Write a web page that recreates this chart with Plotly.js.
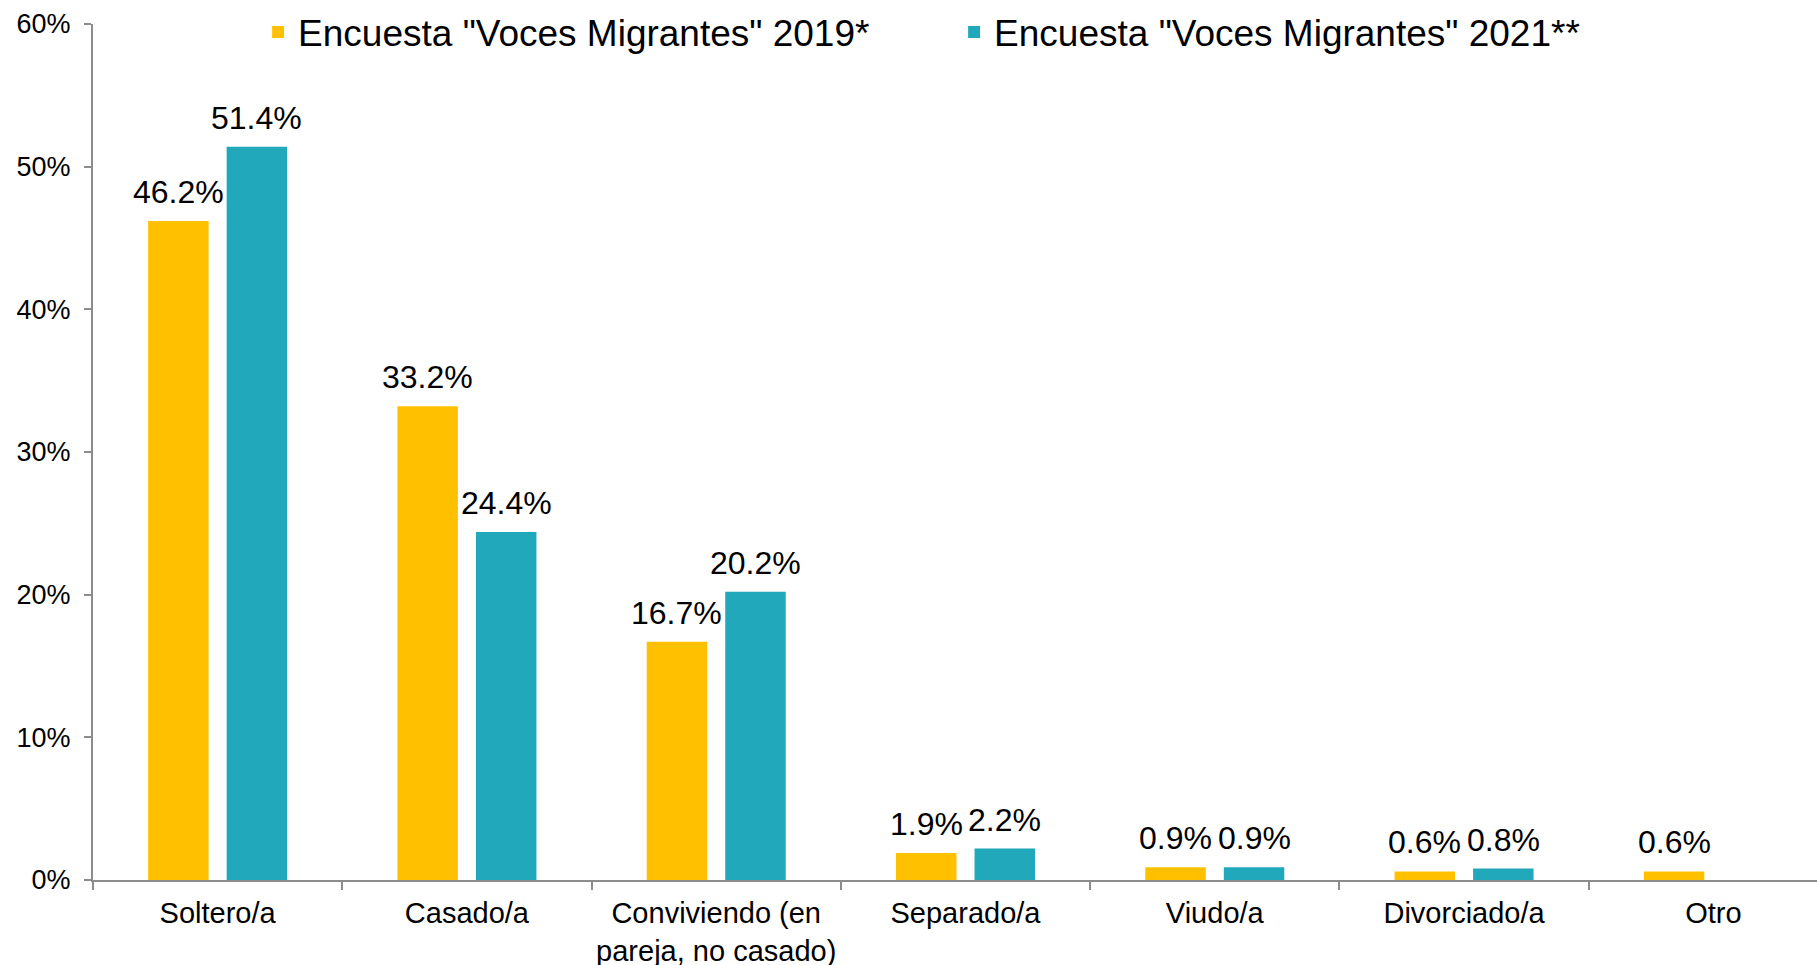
<!DOCTYPE html>
<html>
<head>
<meta charset="utf-8">
<script src="https://cdn.plot.ly/plotly-3.0.1.min.js"></script>
<style>
  html, body { margin: 0; padding: 0; background: #ffffff; }
  #chart { width: 1817px; height: 965px; }
</style>
</head>
<body>
<div id="chart"></div>
<script>
const categories = ["Soltero/a", "Casado/a", "Conviviendo (en<br>pareja, no casado)", "Separado/a", "Viudo/a", "Divorciado/a", "Otro"];
const series2019Name = 'Encuesta "Voces Migrantes" 2019*';
const series2021Name = 'Encuesta "Voces Migrantes" 2021**';
const values2019 = [46.2, 33.2, 16.7, 1.9, 0.9, 0.6, 0.6];
const values2021 = [51.4, 24.4, 20.2, 2.2, 0.9, 0.8, null];
const yTickValues = [0, 10, 20, 30, 40, 50, 60];
const yTickLabels = ["0%", "10%", "20%", "30%", "40%", "50%", "60%"];

const FONT = '"Liberation Sans", Arial, Helvetica, sans-serif';
const AXIS_GRAY = '#8c8c8c';
const W = 1817, H = 965;
const M = { l: 93, r: 0, t: 23.5, b: 85 };
const BARGAP = 0.37;
const X_RANGE = [-0.5, 6.5 - 21 / 249.3];
const catWidthPx = (W - M.l - M.r) / (X_RANGE[1] - X_RANGE[0]);
const barOffsetPx = (1 - BARGAP) / 4 * catWidthPx;

const seriesList = [
  { name: series2019Name, values: values2019, color: '#FFC000', side: -1 },
  { name: series2021Name, values: values2021, color: '#21A8BB', side: 1 }
];

const traces = seriesList.map(s => ({
  type: 'bar',
  name: s.name,
  x: categories,
  y: s.values,
  marker: { color: s.color, line: { width: 0 } },
  hoverinfo: 'x+y'
}));

const annotations = [];
seriesList.forEach(s => {
  s.values.forEach((v, j) => {
    if (v === null || v === undefined) return;
    annotations.push({
      x: categories[j], y: v, xref: 'x', yref: 'y',
      text: v.toFixed(1) + '%',
      showarrow: false,
      xanchor: 'center', yanchor: 'middle',
      xshift: s.side * barOffsetPx,
      yshift: 29,
      font: { family: FONT, size: 32, color: '#000000' }
    });
  });
});

const layout = {
  width: W,
  height: H,
  margin: M,
  paper_bgcolor: '#ffffff',
  plot_bgcolor: '#ffffff',
  font: { family: FONT, color: '#000000' },
  barmode: 'group',
  bargap: BARGAP,
  bargroupgap: 0.23,
  showlegend: true,
  annotations: annotations,
  legend: {
    orientation: 'h',
    x: 174 / W,
    xanchor: 'left',
    y: 1 + (23.5 - 32) / 856.5,
    yanchor: 'middle',
    font: { family: FONT, size: 37, color: '#000000' },
    entrywidth: 651,
    bgcolor: 'rgba(0,0,0,0)',
    borderwidth: 0,
    traceorder: 'normal'
  },
  xaxis: {
    type: 'category',
    range: X_RANGE,
    showline: true,
    linecolor: AXIS_GRAY,
    linewidth: 2,
    ticks: 'outside',
    tickson: 'boundaries',
    ticklen: 8,
    tickwidth: 2,
    tickcolor: AXIS_GRAY,
    tickangle: 0,
    tickfont: { family: FONT, size: 29, color: '#000000' },
    ticklabelstandoff: 6,
    showgrid: false,
    zeroline: false,
    fixedrange: true
  },
  yaxis: {
    range: [0, 60],
    tickmode: 'array',
    tickvals: yTickValues,
    ticktext: yTickLabels,
    showline: true,
    linecolor: AXIS_GRAY,
    linewidth: 2,
    ticks: 'outside',
    ticklen: 7,
    tickwidth: 2,
    tickcolor: AXIS_GRAY,
    tickfont: { family: FONT, size: 27, color: '#000000' },
    ticklabelstandoff: 8,
    showgrid: false,
    zeroline: false,
    fixedrange: true
  }
};

Plotly.newPlot('chart', traces, layout, { displayModeBar: false, staticPlot: true });
</script>
</body>
</html>
